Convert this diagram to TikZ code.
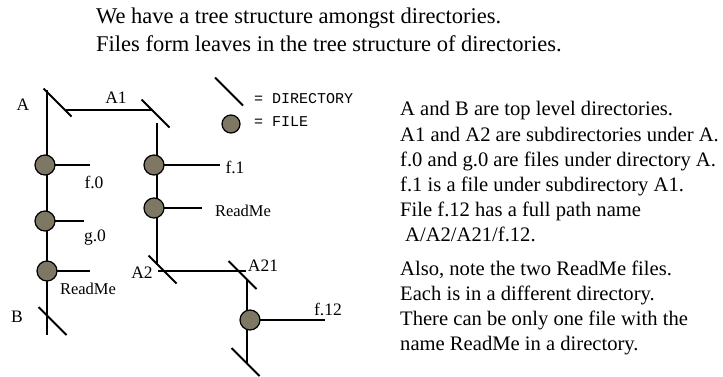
\documentclass[tikz,border=0pt]{standalone}
\usepackage{fontspec}
\setmainfont{Liberation Serif}
\setmonofont{Liberation Mono}
\definecolor{filegray}{RGB}{125,119,99}
\begin{document}
\begin{tikzpicture}[x=1pt,y=-1pt,
  link/.style={line width=1.5pt},
  dirmark/.style={line width=1.8pt},
  filedot/.style={circle,draw=black,line width=1.2pt,fill=filegray,minimum size=20pt,inner sep=0pt},
  lbl/.style={font=\fontsize{17.5}{20}\selectfont,inner sep=0pt},
  txt/.style={font=\fontsize{20.6}{24}\selectfont,anchor=base west,inner sep=0pt},
  ttl/.style={font=\fontsize{22.5}{26}\selectfont,anchor=base west,inner sep=0pt},
  leg/.style={font=\ttfamily\fontsize{15}{17}\selectfont,anchor=west,inner sep=0pt}]
\useasboundingbox[fill=white] (0,0) rectangle (723,376);
% title
\node[ttl] (t1) at (96,23) {We have a tree structure amongst directories.};
\node[ttl] (t2) at (96,51) {Files form leaves in the tree structure of directories.};
% directory points
\coordinate (A) at (57.5,102.5);
\coordinate (A1) at (155.5,113.5);
\coordinate (A2) at (162.5,269.5);
\coordinate (A21) at (242.5,275);
\coordinate (B) at (52.5,321);
\coordinate (A21end) at (245.5,362);
\coordinate (Atop) at (47,90);
\coordinate (Bbot) at (47,335);
\coordinate (AH) at (66,110);
\coordinate (A1H) at (152,110);
\coordinate (A1top) at (157,123);
\coordinate (A1bot) at (157,265);
\coordinate (A2H) at (158,271);
\coordinate (A21H) at (246,271);
\coordinate (A21top) at (247,280);
\coordinate (A21bot) at (247,363);
% tree lines
\draw[link] (Atop) -- (Bbot);
\draw[link] (AH) -- (A1H);
\draw[link] (A1top) -- (A1bot);
\draw[link] (A2H) -- (A21H);
\draw[link] (A21top) -- (A21bot);
% directory marks
\foreach \d in {A,A1,A2,A21,B,A21end}
  \draw[dirmark] (\d) +(-14,-14) -- +(14,14);
% file leaves
\coordinate (f0e) at (90,165);
\coordinate (g0e) at (84,221);
\coordinate (rae) at (90,271);
\coordinate (f1e) at (220,165);
\coordinate (ra1e) at (202,208);
\coordinate (f12e) at (325,320);
\draw[link] (45,165) -- (f0e);
\draw[link] (45,221) -- (g0e);
\draw[link] (47,271) -- (rae);
\draw[link] (154,165) -- (f1e);
\draw[link] (154,208) -- (ra1e);
\draw[link] (250,320) -- (f12e);
\node[filedot] (f0) at (45,165) {};
\node[filedot] (g0) at (45,221) {};
\node[filedot] (ra) at (47,271) {};
\node[filedot] (f1) at (154,165) {};
\node[filedot] (ra1) at (154,208) {};
\node[filedot] (f12) at (250,320) {};
% labels
\node[lbl] (lA) at (23,105) {A};
\node[lbl] (lA1) at (116,98) {A1};
\node[lbl] (lA2) at (142,273) {A2};
\node[lbl] (lA21) at (263,266) {A21};
\node[lbl] (lB) at (17,317) {B};
\node[lbl] (lf0) at (94,182) {f.0};
\node[lbl] (lg0) at (95,238) {g.0};
\node[lbl,font=\fontsize{16.5}{18}\selectfont] (lra) at (88,289) {ReadMe};
\node[lbl] (lf1) at (235,167) {f.1};
\node[lbl,font=\fontsize{16.5}{18}\selectfont] (lra1) at (243,211) {ReadMe};
\node[lbl] (lf12) at (328,309) {f.12};
% legend
\coordinate (legdir) at (229,91.5);
\draw[dirmark] (legdir) +(-14,-14) -- +(14,14);
\node[leg] (legd) at (254,99) {= DIRECTORY};
\node[filedot,minimum size=18pt] (legf) at (231,124) {};
\node[leg] (legfl) at (254,122) {= FILE};
% explanation text
\node[txt] (r1) at (400,115) {A and B are top level directories.};
\node[txt] (r2) at (400,141) {A1 and A2 are subdirectories under A.};
\node[txt] (r3) at (400,166.5) {f.0 and g.0 are files under directory A.};
\node[txt] (r4) at (400,191.5) {f.1 is a file under subdirectory A1.};
\node[txt] (r5) at (400,216.5) {File f.12 has a full path name};
\node[txt] (r6) at (405,241.5) {A/A2/A21/f.12.};
\node[txt] (r7) at (400,275) {Also, note the two ReadMe files.};
\node[txt] (r8) at (400,300) {Each is in a different directory.};
\node[txt] (r9) at (400,325) {There can be only one file with the};
\node[txt] (r10) at (400,350) {name ReadMe in a directory.};
\end{tikzpicture}
\end{document}
